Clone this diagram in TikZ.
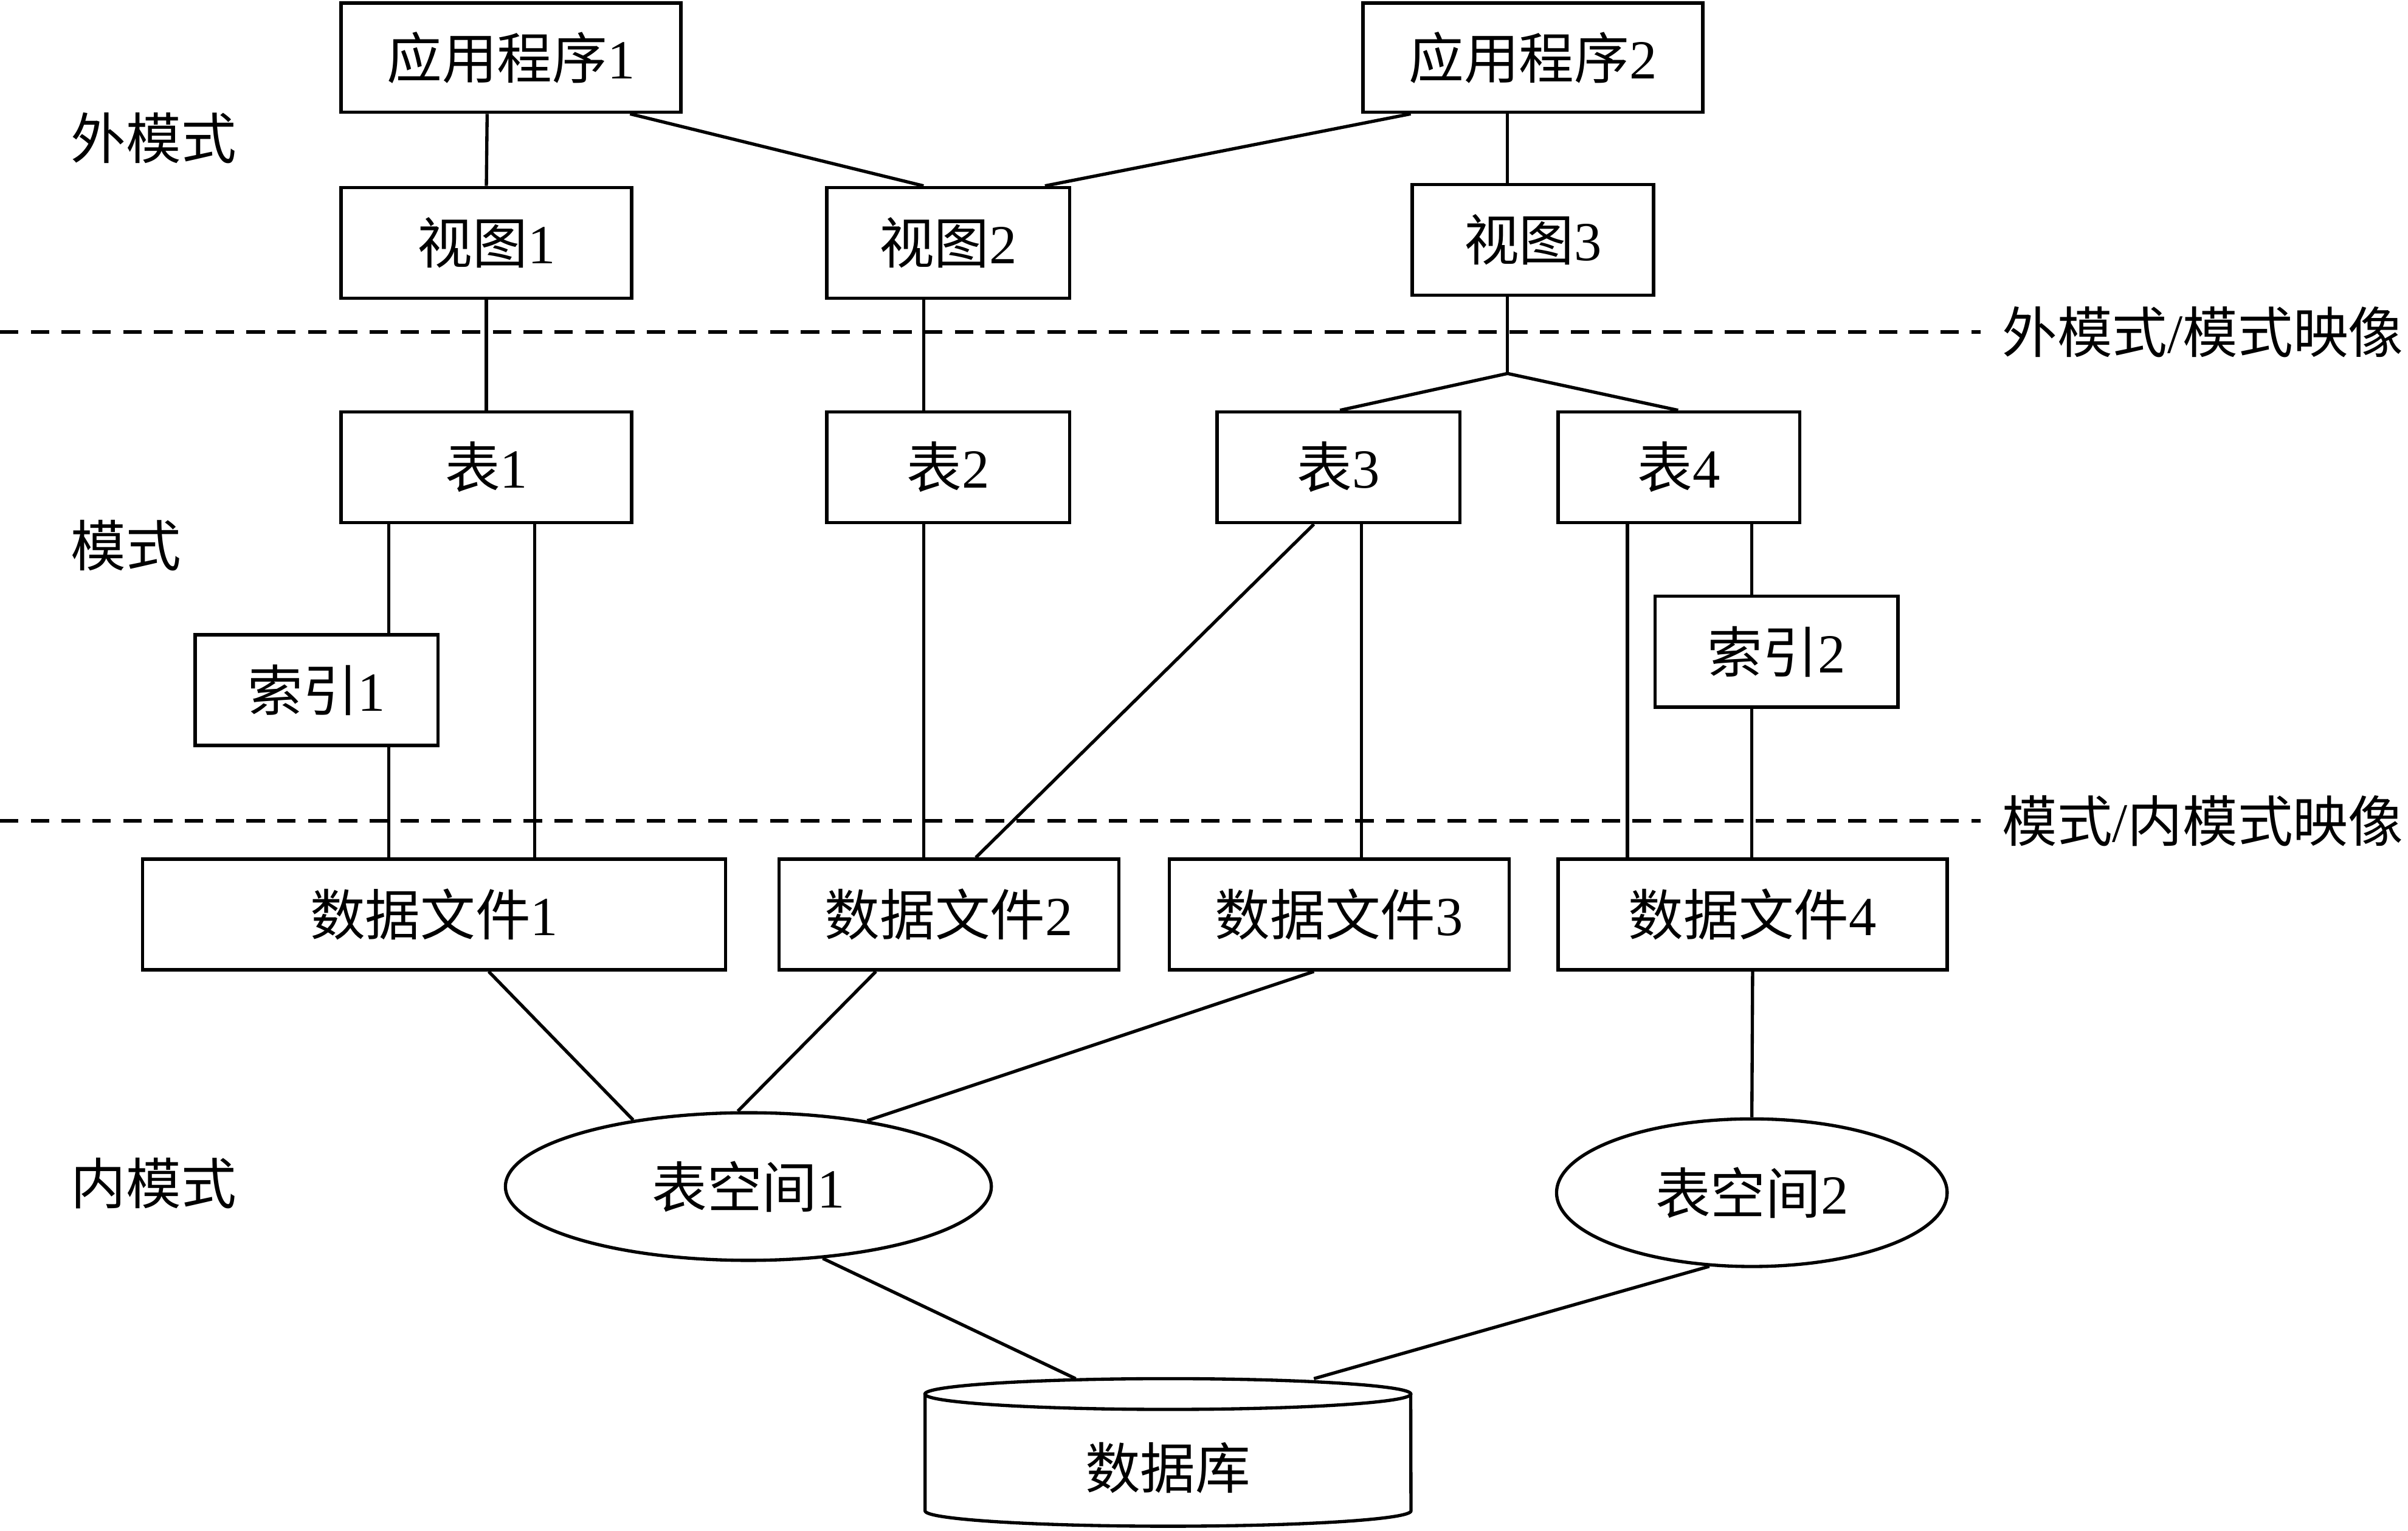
\documentclass[tikz,border=0pt]{standalone}
\usepackage{fontspec}
\setmainfont{Liberation Serif}
\newfontfamily\cjk{Noto Sans CJK SC}
\usetikzlibrary{shapes.geometric,calc}
\begin{document}
\begin{tikzpicture}[x=0.01cm,y=-0.01cm,line width=0.6pt,
  every node/.style={font=\fontsize{10.2}{12}\selectfont},
  box/.style={draw,rectangle,inner sep=0pt},
  ell/.style={draw,ellipse,inner sep=0pt},
  lbl/.style={font=\fontsize{10.2}{12}\selectfont},
  dsh/.style={dash pattern=on 3.4pt off 2.3pt}]
\useasboundingbox (0,0) rectangle (1567,996);
\newcommand{\zh}[1]{{\cjk #1}}
\node[box,minimum width=2.21cm,minimum height=0.71cm] (app1) at (332.5,37.5) {\zh{应用程序}1};
\node[box,minimum width=2.21cm,minimum height=0.71cm] (app2) at (997.5,37.5) {\zh{应用程序}2};
\node[box,minimum width=1.89cm,minimum height=0.72cm] (v1) at (316.5,158) {\zh{视图}1};
\node[box,minimum width=1.58cm,minimum height=0.72cm] (v2) at (617,158) {\zh{视图}2};
\node[box,minimum width=1.57cm,minimum height=0.72cm] (v3) at (997.5,156) {\zh{视图}3};
\node[box,minimum width=1.89cm,minimum height=0.72cm] (t1) at (316.5,304) {\zh{表}1};
\node[box,minimum width=1.58cm,minimum height=0.72cm] (t2) at (617,304) {\zh{表}2};
\node[box,minimum width=1.58cm,minimum height=0.72cm] (t3) at (871,304) {\zh{表}3};
\node[box,minimum width=1.57cm,minimum height=0.72cm] (t4) at (1092.5,304) {\zh{表}4};
\node[box,minimum width=1.58cm,minimum height=0.72cm] (i1) at (206,449) {\zh{索引}1};
\node[box,minimum width=1.58cm,minimum height=0.72cm] (i2) at (1156,424) {\zh{索引}2};
\node[box,minimum width=3.79cm,minimum height=0.72cm] (d1) at (282.5,595) {\zh{数据文件}1};
\node[box,minimum width=2.21cm,minimum height=0.72cm] (d2) at (617.5,595) {\zh{数据文件}2};
\node[box,minimum width=2.21cm,minimum height=0.72cm] (d3) at (871.5,595) {\zh{数据文件}3};
\node[box,minimum width=2.53cm,minimum height=0.72cm] (d4) at (1140.5,595) {\zh{数据文件}4};
\node[ell,minimum width=3.16cm,minimum height=0.96cm] (ts1) at (487,772) {\zh{表空间}1};
\node[ell,minimum width=2.54cm,minimum height=0.96cm] (ts2) at (1140,776) {\zh{表空间}2};
\node[lbl] (db) at (760,955) {\zh{数据库}};
\draw (602,907) -- (602,983) arc[start angle=180,end angle=360,x radius=1.58cm,y radius=0.1cm] -- (918,907);
\draw (760,907) ellipse[x radius=1.58cm,y radius=0.1cm];
\coordinate (dbl) at (700,897);
\coordinate (dbr) at (855,897);
\node[lbl] (l1) at (100,90) {\zh{外模式}};
\node[lbl] (l2) at (82,355) {\zh{模式}};
\node[lbl] (l3) at (100,770) {\zh{内模式}};
\node[lbl,anchor=east,inner sep=0pt] (m1) at (1565,216) {\zh{外模式}/\zh{模式映像}};
\node[lbl,anchor=east,inner sep=0pt] (m2) at (1565,534) {\zh{模式}/\zh{内模式映像}};
\coordinate (a1) at (0,216); \coordinate (a2) at (0,534);
\draw[dsh] (a1) -- ([xshift=-0.13cm]m1.west);
\draw[dsh] (a2) -- ([xshift=-0.13cm]m2.west);
\coordinate (j) at (981,243);
\draw ($(app1.south)+(-15.5,0)$) -- (v1.north);
\draw ($(app1.south)+(77.5,0)$) -- ($(v2.north)+(-16,0)$);
\draw ($(app2.south)+(-79.5,0)$) -- ($(v2.north)+(63,0)$);
\draw ($(app2.south)+(-16.5,0)$) -- ($(v3.north)+(-16.5,0)$);
\draw (v1.south) -- (t1.north);
\draw ($(v2.south)+(-16,0)$) -- ($(t2.north)+(-16,0)$);
\draw ($(v3.south)+(-16.5,0)$) -- (j);
\draw (j) -- ($(t3.north)+(1,0)$);
\draw (j) -- ($(t4.north)+(-0.5,0)$);
\draw ($(t1.south)+(-63.5,0)$) -- ($(i1.north)+(47,0)$);
\draw ($(i1.south)+(47,0)$) -- ($(d1.north)+(-29.5,0)$);
\draw ($(t1.south)+(31.5,0)$) -- ($(d1.north)+(65.5,0)$);
\draw ($(t2.south)+(-16,0)$) -- ($(d2.north)+(-16.5,0)$);
\draw ($(t3.south)+(-16,0)$) -- ($(d2.north)+(17.5,0)$);
\draw ($(t3.south)+(15,0)$) -- ($(d3.north)+(14.5,0)$);
\draw ($(t4.south)+(-33.5,0)$) -- ($(d4.north)+(-81.5,0)$);
\draw ($(t4.south)+(47.5,0)$) -- ($(i2.north)+(-16,0)$);
\draw ($(i2.south)+(-16,0)$) -- ($(d4.north)+(-0.5,0)$);
\draw ($(d1.south)+(35.5,0)$) -- (ts1.150);
\draw ($(d2.south)+(-47.5,0)$) -- (ts1.98);
\draw ($(d3.south)+(-16.5,0)$) -- (ts1.29);
\draw (d4.south) -- (ts2.north);
\draw (ts1.316) -- (dbl);
\draw (ts2.240) -- (dbr);
\end{tikzpicture}
\end{document}
